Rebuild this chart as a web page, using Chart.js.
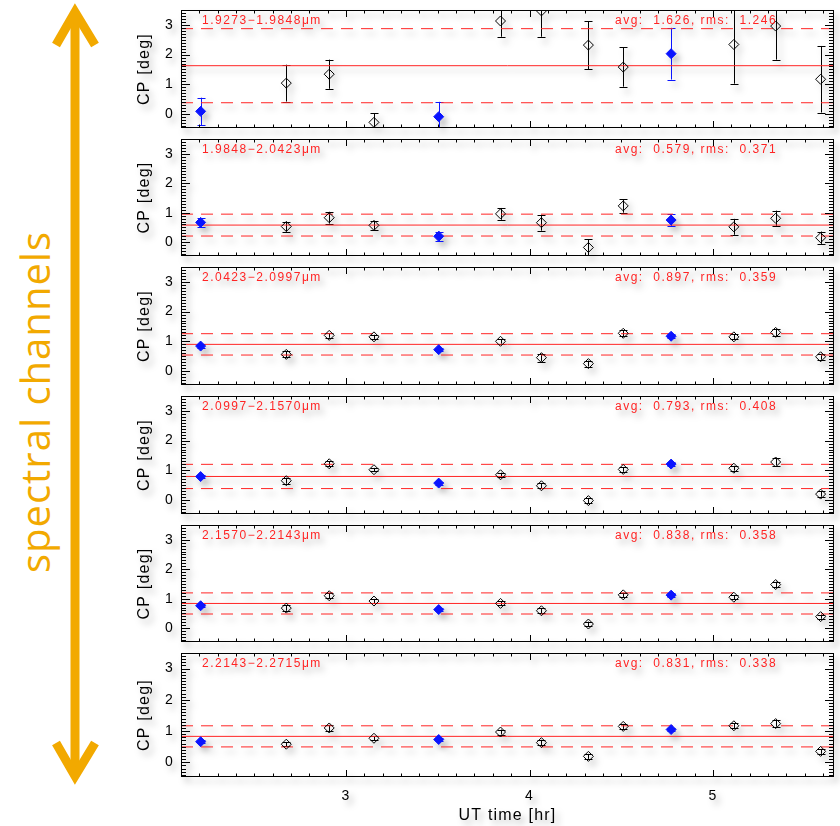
<!DOCTYPE html>
<html>
<head>
<meta charset="utf-8">
<title>Closure phase per spectral channel</title>
<script src="https://cdn.jsdelivr.net/npm/chart.js@4/dist/chart.umd.min.js"></script>
<style>
  html, body { margin: 0; padding: 0; background: #fff; }
  body { width: 840px; height: 826px; position: relative; overflow: hidden; }
  .panel { position: absolute; left: 0; display: block; filter: drop-shadow(4px 5px 3px rgba(0,0,0,0.28)); }
  #arrow { position: absolute; left: 0; top: 0; }
  #sideLabel {
    position: absolute; left: -165px; top: 380px; width: 400px; height: 44px;
    line-height: 44px; text-align: center; color: #F2A900;
    font-family: "Open Sans", sans-serif; font-size: 40px; letter-spacing: 1px;
    transform: rotate(-90deg); transform-origin: 200px 22px;
  }
</style>
</head>
<body>
<svg id="arrow" width="120" height="826">
  <g fill="none" stroke="#F2A900" stroke-width="9" stroke-linejoin="miter">
    <line x1="75" y1="12" x2="75" y2="776"/>
    <polyline points="56,45 75,12 95,45"/>
    <polyline points="56,743 75,776 95,743"/>
  </g>
</svg>
<div id="sideLabel">spectral channels</div>

<script>
// UT time of each observation [hr]
const utTime = [2.207, 2.674, 2.908, 3.152, 3.505, 3.842, 4.065, 4.321, 4.511, 4.772, 5.114, 5.342, 5.587];
// calibrator observations are plotted as filled blue diamonds
const isCalib = [true, false, false, false, true, false, false, false, false, true, false, false, false];

const channelLabels = ['1.9273\u22121.9848\u03bcm', '1.9848\u22122.0423\u03bcm', '2.0423\u22122.0997\u03bcm',
                       '2.0997\u22122.1570\u03bcm', '2.1570\u22122.2143\u03bcm', '2.2143\u22122.2715\u03bcm'];
const avgCP = [1.626, 0.579, 0.897, 0.793, 0.838, 0.831];
const rmsCP = [1.246, 0.371, 0.359, 0.408, 0.358, 0.338];

// closure phase [deg] and its uncertainty, one pair per channel
const cp1  = [0.09, 1.04, 1.34, -0.28, -0.09, 3.13, 3.47, 2.32, 1.58, 2.03, 2.34, 2.96, 1.17];
const err1 = [0.46, 0.62, 0.49, 0.31, 0.50, 0.53, 0.87, 0.81, 0.66, 0.87, 1.32, 1.13, 1.12];
const cp2  = [0.67, 0.53, 0.83, 0.57, 0.20, 0.96, 0.66, -0.18, 1.23, 0.75, 0.52, 0.81, 0.15];
const err2 = [0.15, 0.17, 0.20, 0.15, 0.16, 0.20, 0.27, 0.27, 0.23, 0.20, 0.27, 0.26, 0.21];
const cp3  = [0.84, 0.56, 1.20, 1.15, 0.72, 1.00, 0.45, 0.25, 1.27, 1.17, 1.15, 1.30, 0.48];
const err3 = [0.06, 0.10, 0.08, 0.07, 0.05, 0.08, 0.13, 0.10, 0.10, 0.06, 0.08, 0.13, 0.10];
const cp4  = [0.79, 0.65, 1.22, 1.02, 0.57, 0.85, 0.48, -0.02, 1.03, 1.21, 1.07, 1.28, 0.20];
const err4 = [0.05, 0.10, 0.08, 0.06, 0.05, 0.07, 0.08, 0.09, 0.08, 0.06, 0.08, 0.12, 0.09];
const cp5  = [0.76, 0.68, 1.10, 0.92, 0.63, 0.84, 0.59, 0.14, 1.13, 1.12, 1.05, 1.48, 0.39];
const err5 = [0.05, 0.09, 0.08, 0.07, 0.05, 0.07, 0.09, 0.08, 0.07, 0.06, 0.07, 0.10, 0.07];
const cp6  = [0.66, 0.58, 1.10, 0.77, 0.73, 0.97, 0.63, 0.19, 1.15, 1.05, 1.17, 1.24, 0.35];
const err6 = [0.05, 0.07, 0.10, 0.07, 0.05, 0.08, 0.09, 0.08, 0.08, 0.06, 0.08, 0.10, 0.08];

const cpSeries  = [cp1, cp2, cp3, cp4, cp5, cp6];
const errSeries = [err1, err2, err3, err4, err5, err6];

const X_MIN = 2.10, X_MAX = 5.66;
const Y_MIN = -0.47, Y_MAX = 3.5;
const RED = '#ff2424';
const BLUE = '#0a14ff';

const panelTop = k => Math.round(4 + k * 128.667);

// error bars, frame with inward IDL-style ticks, and the channel annotations
const panelDecor = {
  id: 'panelDecor',
  beforeDraw(chart) {
    chart.ctx.letterSpacing = '1.2px';
  },
  beforeDatasetsDraw(chart, args, opts) {
    const ctx = chart.ctx, xs = chart.scales.x, ys = chart.scales.y, area = chart.chartArea;
    const vals = cpSeries[opts.channel], errs = errSeries[opts.channel];
    ctx.save();
    ctx.beginPath();
    ctx.rect(area.left, area.top, area.right - area.left, area.bottom - area.top);
    ctx.clip();
    ctx.lineWidth = 1;
    utTime.forEach((t, i) => {
      const px = Math.round(xs.getPixelForValue(t)) + 0.5;
      const y1 = ys.getPixelForValue(vals[i] + errs[i]);
      const y2 = ys.getPixelForValue(vals[i] - errs[i]);
      ctx.strokeStyle = isCalib[i] ? BLUE : '#000';
      ctx.beginPath();
      ctx.moveTo(px, y1); ctx.lineTo(px, y2);
      ctx.moveTo(px - 4, Math.round(y1) + 0.5); ctx.lineTo(px + 4, Math.round(y1) + 0.5);
      ctx.moveTo(px - 4, Math.round(y2) + 0.5); ctx.lineTo(px + 4, Math.round(y2) + 0.5);
      ctx.stroke();
    });
    ctx.restore();
  },
  afterDraw(chart, args, opts) {
    const ctx = chart.ctx, xs = chart.scales.x, ys = chart.scales.y;
    const { left, right, top, bottom } = chart.chartArea;
    ctx.save();
    ctx.strokeStyle = '#000';
    ctx.lineWidth = 1;
    ctx.strokeRect(left + 0.5, top + 0.5, right - left - 1, bottom - top - 1);
    ctx.beginPath();
    for (let t = Math.ceil(X_MIN * 10); t <= Math.floor(X_MAX * 10); t++) {
      const px = Math.round(xs.getPixelForValue(t / 10)) + 0.5;
      const len = t % 10 === 0 ? 7 : 3.5;
      ctx.moveTo(px, bottom); ctx.lineTo(px, bottom - len);
      ctx.moveTo(px, top); ctx.lineTo(px, top + len);
    }
    for (let t = Math.ceil(Y_MIN * 10); t <= Math.floor(Y_MAX * 10); t++) {
      const py = Math.round(ys.getPixelForValue(t / 10)) + 0.5;
      const len = t % 10 === 0 ? 9 : 5;
      ctx.moveTo(left, py); ctx.lineTo(left + len, py);
      ctx.moveTo(right, py); ctx.lineTo(right - len, py);
    }
    ctx.stroke();

    ctx.fillStyle = RED;
    ctx.font = '12px "Liberation Sans", Arial, sans-serif';
    ctx.letterSpacing = '1.5px';
    ctx.textBaseline = 'middle';
    ctx.textAlign = 'left';
    const k = opts.channel;
    ctx.fillText(channelLabels[k], 202, top + 11);
    ctx.fillText('avg:  ' + avgCP[k].toFixed(3) + ', rms:  ' + rmsCP[k].toFixed(3), 615, top + 11);
    ctx.restore();
  }
};

function refLine(value, dashed) {
  return {
    type: 'line',
    data: [{ x: X_MIN, y: value }, { x: X_MAX, y: value }],
    borderColor: RED,
    borderWidth: 1,
    borderDash: dashed ? [12, 8] : [],
    pointRadius: 0,
    order: 2
  };
}

// keep every panel's plot box at the same fixed size
function noEdgePadding(s) {
  s.paddingTop = 0; s.paddingBottom = 0; s.paddingLeft = 0; s.paddingRight = 0;
}

for (let k = 0; k < 6; k++) {
  const last = k === 5;
  const top = panelTop(k);
  const h = last ? 826 - top : panelTop(k + 1) - top + 1;
  const canvas = document.createElement('canvas');
  canvas.className = 'panel';
  canvas.width = 840;
  canvas.height = h;
  canvas.style.top = top + 'px';
  document.body.appendChild(canvas);

  const vals = cpSeries[k];
  const openPts = [], calPts = [];
  utTime.forEach((t, i) => (isCalib[i] ? calPts : openPts).push({ x: t, y: vals[i] }));

  new Chart(canvas, {
    type: 'scatter',
    data: {
      datasets: [
        refLine(avgCP[k], false),
        refLine(avgCP[k] + rmsCP[k], true),
        refLine(avgCP[k] - rmsCP[k], true),
        {
          data: openPts, pointStyle: 'rectRot', pointRadius: 5, pointBorderWidth: 1,
          pointBorderColor: '#000', pointBackgroundColor: 'rgba(0,0,0,0)', order: 1
        },
        {
          data: calPts, pointStyle: 'rectRot', pointRadius: 5, pointBorderWidth: 1,
          pointBorderColor: BLUE, pointBackgroundColor: BLUE, order: 0
        }
      ]
    },
    options: {
      responsive: false,
      animation: false,
      events: [],
      layout: { padding: { left: 133, right: 4, top: 0, bottom: 0 } },
      plugins: {
        legend: { display: false },
        tooltip: { enabled: false },
        panelDecor: { channel: k }
      },
      scales: {
        x: {
          type: 'linear', min: X_MIN, max: X_MAX,
          display: last,
          grid: { display: false, drawTicks: false },
          border: { display: false },
          ticks: {
            stepSize: 1, includeBounds: false, padding: 11, color: '#000',
            font: { family: '"Liberation Sans", Arial, sans-serif', size: 14 }
          },
          title: {
            display: true, text: 'UT time [hr]', color: '#000',
            font: { family: '"Liberation Sans", Arial, sans-serif', size: 16 },
            padding: { top: 0, bottom: 1 }
          },
          afterFit: s => { s.height = last ? 49 : 0; noEdgePadding(s); }
        },
        y: {
          type: 'linear', min: Y_MIN, max: Y_MAX,
          grid: { display: false, drawTicks: false },
          border: { display: false },
          ticks: {
            stepSize: 1, includeBounds: false, padding: 7, color: '#000',
            font: { family: '"Liberation Sans", Arial, sans-serif', size: 14 }
          },
          title: {
            display: true, text: 'CP [deg]', color: '#000',
            font: { family: '"Liberation Sans", Arial, sans-serif', size: 16 },
            padding: { top: 2, bottom: 0 }
          },
          afterFit: s => { s.width = 48; noEdgePadding(s); }
        }
      }
    },
    plugins: [panelDecor]
  });
}
</script>
</body>
</html>
